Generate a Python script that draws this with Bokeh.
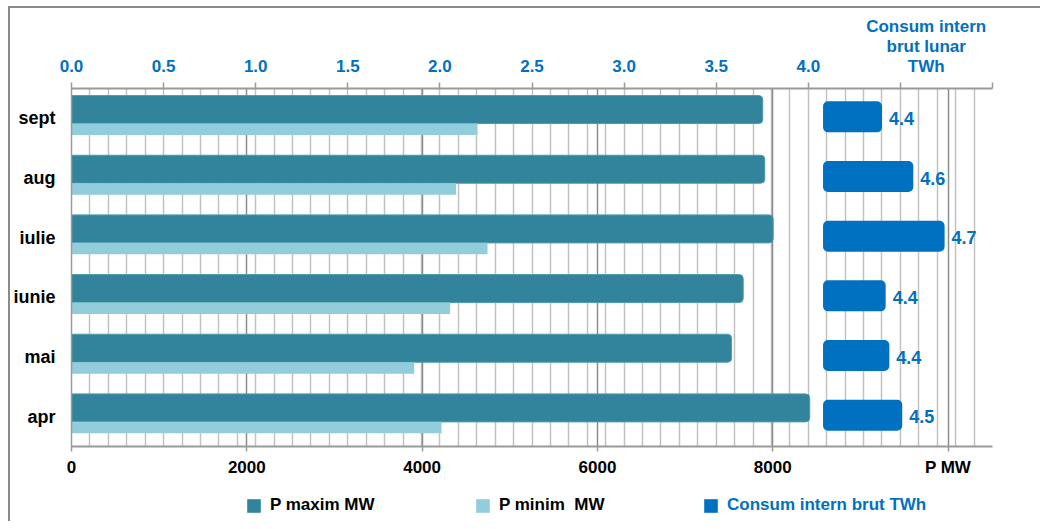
from bokeh.plotting import figure
from bokeh.layouts import column
from bokeh.models import (ColumnDataSource, FactorRange, Range1d, LinearAxis, Grid, FixedTicker,
                          SingleIntervalTicker, CustomJSTickFormatter, LabelSet, Legend, LegendItem)
from bokeh.core.properties import value
from bokeh.transform import dodge
from bokeh.embed import file_html
from bokeh.resources import INLINE

# ---------------- data ----------------
months = ["apr", "mai", "iunie", "iulie", "aug", "sept"]
p_max_mw = [8422, 7530, 7663, 8005, 7909, 7886]
p_min_mw = [4221, 3909, 4319, 4746, 4388, 4631]
consum_twh = [4.51, 4.44, 4.42, 4.74, 4.57, 4.40]
twh_ticks = [0.0, 0.5, 1.0, 1.5, 2.0, 2.5, 3.0, 3.5, 4.0, 4.5, 5.0]
twh_label_ticks = [0.0, 0.5, 1.0, 1.5, 2.0, 2.5, 3.0, 3.5, 4.0]
mw_ticks = [0, 2000, 4000, 6000, 8000, 10000]
mw_axis_title = "P MW"
twh_axis_title = "Consum intern\nbrut lunar\nTWh"
legend_labels = ["P maxim MW", "P minim  MW", "Consum intern brut TWh"]

# ---------------- style ----------------
FONT = "Liberation Sans"
C_MAX = "#31849B"
C_MIN = "#92CDDC"
C_CONS = "#0070C0"
GREY = "#9a9a9a"
CONS_START = 4.08
TITLE_POS = 4.64

src = ColumnDataSource(dict(
    month=months, pmax=p_max_mw, pmin=p_min_mw, consum=consum_twh,
    consum_lbl=[f"{v:.1f}" for v in consum_twh],
))

p = figure(width=1030, height=483, y_range=FactorRange(factors=months),
           x_range=Range1d(0, 10507), output_backend="svg", toolbar_location=None,
           min_border_left=60, min_border_right=48, min_border_top=80, min_border_bottom=45)
p.outline_line_color = None
p.background_fill_color = "white"
p.extra_x_ranges = {"twh": Range1d(0, 5.0)}

# grids
p.xgrid.grid_line_color = None
p.ygrid.grid_line_color = None
light = Grid(dimension=0, ticker=SingleIntervalTicker(interval=0.1), x_range_name="twh",
             grid_line_color="#c2c2c2", grid_line_width=1.5)
dark = Grid(dimension=0, ticker=FixedTicker(ticks=mw_ticks),
            grid_line_color="#8c8c8c", grid_line_width=1.5)
p.add_layout(light, "center")
p.add_layout(dark, "center")

# bottom axis (MW)
ax = p.xaxis[0]
ax.ticker = FixedTicker(ticks=mw_ticks)
ax.formatter = CustomJSTickFormatter(args=dict(t=mw_axis_title),
                                     code="return tick > 9999 ? t : tick.toFixed(0);")
ax.axis_line_color = GREY
ax.axis_line_width = 2
ax.major_tick_line_color = GREY
ax.major_tick_line_width = 1.5
ax.major_tick_out = 5
ax.major_tick_in = 0
ax.minor_tick_line_color = None
ax.major_label_standoff = 6
ax.major_label_text_font = FONT
ax.major_label_text_font_style = "bold"
ax.major_label_text_font_size = "17px"
ax.major_label_text_color = "black"

# top axis (TWh): inner axis with ticks, outer axis with labels
top_ticks = LinearAxis(x_range_name="twh", ticker=FixedTicker(ticks=twh_ticks),
                       formatter=CustomJSTickFormatter(code="return '';"))
top_ticks.axis_line_color = GREY
top_ticks.axis_line_width = 2
top_ticks.major_tick_line_color = GREY
top_ticks.major_tick_line_width = 1.5
top_ticks.major_tick_out = 6
top_ticks.major_tick_in = 0
top_ticks.minor_tick_line_color = None
top_ticks.major_label_standoff = 0
top_ticks.major_label_text_font_size = "0px"
p.add_layout(top_ticks, "above")

top_lbl = LinearAxis(x_range_name="twh", ticker=FixedTicker(ticks=twh_label_ticks + [TITLE_POS]),
                     formatter=CustomJSTickFormatter(args=dict(t=twh_axis_title),
                                                     code="return tick > 4.1 ? t : tick.toFixed(1);"))
top_lbl.axis_line_color = None
top_lbl.major_tick_line_color = None
top_lbl.major_tick_out = 0
top_lbl.major_tick_in = 0
top_lbl.minor_tick_line_color = None
top_lbl.major_label_standoff = 7
top_lbl.major_label_text_font = FONT
top_lbl.major_label_text_font_style = "bold"
top_lbl.major_label_text_font_size = "17px"
top_lbl.major_label_text_line_height = 1.05
top_lbl.major_label_text_color = C_CONS
p.add_layout(top_lbl, "above")

# left axis (months)
ya = p.yaxis[0]
ya.axis_line_color = GREY
ya.axis_line_width = 1.5
ya.major_tick_line_color = None
ya.major_tick_out = 0
ya.major_tick_in = 0
ya.minor_tick_line_color = None
ya.major_label_standoff = 16
ya.major_label_text_font = FONT
ya.major_label_text_font_style = "bold"
ya.major_label_text_font_size = "18px"
ya.major_label_text_color = "black"

# bars
p.hbar(y=dodge("month", 0.147, range=p.y_range), left=0, right="pmax", height=0.469,
       source=src, fill_color=C_MAX, line_color="#4e9bb0", line_width=1,
       border_radius=(0, 4, 4, 0))
p.hbar(y=dodge("month", -0.183, range=p.y_range), left=0, right="pmin", height=0.193,
       source=src, fill_color=C_MIN, line_color=None)
p.hbar(y=dodge("month", 0.025, range=p.y_range), left=CONS_START, right="consum", height=0.52,
       source=src, x_range_name="twh", fill_color=C_CONS, line_color=None, border_radius=5)

# value labels
p.add_layout(LabelSet(x="consum", y="month", text="consum_lbl", source=src, x_range_name="twh",
                      x_offset=7, text_align="left", text_baseline="middle",
                      text_font=value(FONT), text_font_style="bold", text_font_size="18px",
                      text_color=C_CONS))

# ---------------- legend strip (separate small figure below the chart) ----------------
p2 = figure(width=1030, height=30, x_range=Range1d(0, 1), y_range=Range1d(0, 1),
            x_axis_location=None, y_axis_location=None,
            output_backend="svg", toolbar_location=None,
            min_border_left=0, min_border_right=0, min_border_top=0, min_border_bottom=0)
p2.grid.visible = False
p2.outline_line_color = None

# legend swatches: same series, drawn outside this strip's visible range (only the key shows)
HIDDEN_Y = -5
for lbl, field, col, txtcol, xloc in [(legend_labels[0], "pmax", C_MAX, "black", 174),
                                      (legend_labels[1], "pmin", C_MIN, "black", 403),
                                      (legend_labels[2], "consum", C_CONS, C_CONS, 631)]:
    r = p2.hbar(y=HIDDEN_Y, left=0, right=field, height=0.5, source=src,
                fill_color=col, line_color=None, border_radius=3)
    lg = Legend(items=[LegendItem(label=lbl, renderers=[r])], location=(xloc, 6),
                orientation="horizontal", border_line_color=None, background_fill_alpha=0,
                padding=0, margin=0, glyph_width=17, glyph_height=17, label_standoff=8,
                label_text_font=FONT, label_text_font_style="bold", label_text_font_size="17px",
                label_text_color=txtcol)
    p2.add_layout(lg, "center")

layout = column(p, p2, spacing=0,
                styles={"margin-left": "8px", "margin-top": "6px",
                        "border-top": "2px solid #8a8a8a", "border-left": "2px solid #8a8a8a"})

open("out.html", "w").write(file_html(layout, INLINE))
